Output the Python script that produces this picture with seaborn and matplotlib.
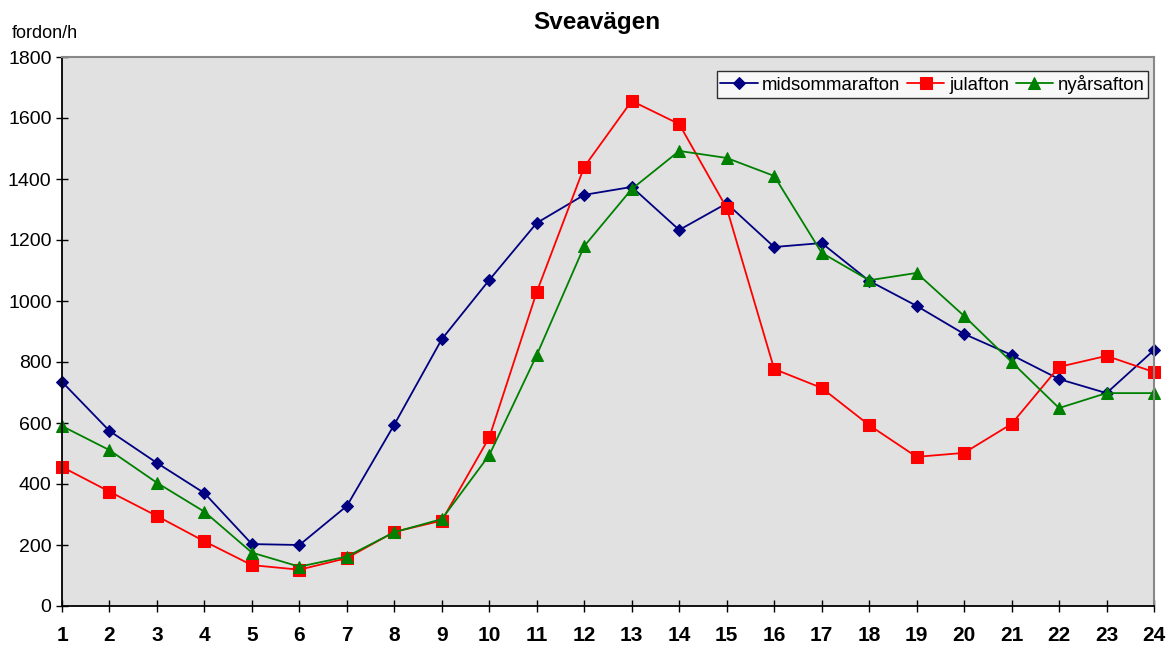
import matplotlib
matplotlib.use("Agg")
import matplotlib.pyplot as plt
import seaborn as sns
import pandas as pd

hours = list(range(1, 25))
midsommarafton = [735, 574, 469, 370, 203, 200, 328, 595, 875, 1069, 1256, 1348,
                  1374, 1233, 1320, 1177, 1190, 1066, 984, 892, 823, 744, 698, 839]
julafton = [456, 375, 295, 212, 134, 119, 157, 243, 280, 553, 1030, 1440,
            1656, 1580, 1305, 777, 715, 593, 489, 502, 597, 784, 820, 767]
nyarsafton = [590, 511, 404, 309, 175, 129, 162, 242, 285, 495, 823, 1180,
              1367, 1492, 1469, 1410, 1158, 1068, 1092, 951, 800, 649, 698, 698]

series_names = ["midsommarafton", "julafton", "nyårsafton"]
series_values = [midsommarafton, julafton, nyarsafton]
colors = ["#000080", "#FF0000", "#008000"]
markers = ["D", "s", "^"]
msizes = [6, 8, 8]

rows = []
for name, vals in zip(series_names, series_values):
    for h, v in zip(hours, vals):
        rows.append({"timme": h, "fordon": v, "serie": name})
df = pd.DataFrame(rows)

sns.set_style("white")
plt.rcParams["font.family"] = ["Liberation Sans", "DejaVu Sans"]
plt.rcParams["text.color"] = "black"
plt.rcParams["xtick.color"] = "black"
plt.rcParams["ytick.color"] = "black"

fig = plt.figure(figsize=(11.74, 6.48), dpi=100)
ax = fig.add_axes([62 / 1174, 1 - 606 / 648, (1154 - 62) / 1174, (606 - 57) / 648])
ax.set_facecolor("#E1E1E1")

for name, c, m, ms in zip(series_names, colors, markers, msizes):
    sns.lineplot(data=df[df["serie"] == name], x="timme", y="fordon", ax=ax,
                 color=c, marker=m, markersize=ms, markeredgecolor=c,
                 linewidth=1.3, label=name, clip_on=False)

ax.set_xlim(1, 24)
ax.set_ylim(0, 1800)
ax.set_xticks(hours)
ax.set_xticklabels([str(h) for h in hours], fontsize=15, fontweight="bold")
ax.set_yticks(range(0, 1801, 200))
ax.set_yticklabels([str(v) for v in range(0, 1801, 200)], fontsize=14)
ax.tick_params(axis="both", direction="inout", length=9, width=1, colors="black",
               bottom=True, left=True, top=False, right=False)
ax.tick_params(axis="x", pad=10)
ax.tick_params(axis="y", pad=3)
ax.set_xlabel("")
ax.set_ylabel("")
for s in ["left", "bottom"]:
    ax.spines[s].set_color("black")
    ax.spines[s].set_linewidth(1.3)
for s in ["top", "right"]:
    ax.spines[s].set_color("#888888")
    ax.spines[s].set_linewidth(1.5)
    ax.spines[s].set_visible(True)

leg = ax.legend(loc="upper right", ncol=3, fontsize=13.4, frameon=True,
                bbox_to_anchor=(0.9945, 0.974), borderaxespad=0,
                columnspacing=0.35, handletextpad=0.25, handlelength=2.0,
                borderpad=0.2, fancybox=False, edgecolor="black")
leg.get_frame().set_facecolor("white")
leg.get_frame().set_linewidth(1.0)

fig.text(597 / 1174, 1 - 22 / 648, "Sveavägen", ha="center", va="center",
         fontsize=17.5, fontweight="bold", color="black")
fig.text(12 / 1174, 1 - 34 / 648, "fordon/h", ha="left", va="center",
         fontsize=13, color="black")

fig.savefig("out.png", dpi=100)
